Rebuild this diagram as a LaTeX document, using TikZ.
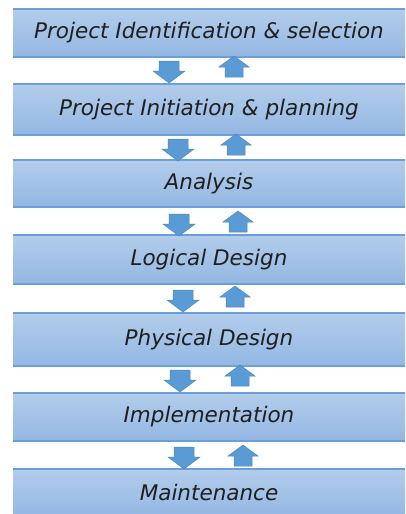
\documentclass[tikz,border=0pt]{standalone}
\usepackage{fontspec}
\setmainfont{DejaVu Sans}
\definecolor{boxtop}{HTML}{B3CDEB}
\definecolor{boxbot}{HTML}{93B7E3}
\definecolor{boxedge}{HTML}{6A9FD9}
\definecolor{arrfill}{HTML}{5B9BD5}
\definecolor{arredge}{HTML}{4A86C0}
\tikzset{
  stage/.style={top color=boxtop, bottom color=boxbot, draw=none},
  edgeline/.style={boxedge, line width=1.6pt},
  label/.style={font=\fontsize{21.5}{24}\selectfont\itshape, text=black!88, inner sep=0pt},
  blockarrow/.style={fill=arrfill, draw=arredge, line width=0.5pt, line join=miter}
}
% stage box: #1 name, #2 top y, #3 bottom y, #4 text
\newcommand\stagebox[4]{%
  \path[stage] (13,#2) rectangle (405,#3);
  \draw[edgeline] (13,#2) -- (405,#2);
  \draw[edgeline] (13,#3) -- (405,#3);
  \node[label] (#1) at (209,{(#2+#3)/2}) {#4};
}
% downward block arrow: centre x, top y
\newcommand\arrdown[2]{%
  \filldraw[blockarrow] ({#1-10},#2) -- ({#1+10},#2) -- ({#1+10},{#2+10}) -- ({#1+16},{#2+10})
    -- (#1,{#2+22}) -- ({#1-16},{#2+10}) -- ({#1-10},{#2+10}) -- cycle;
}
% upward block arrow: centre x, tip y
\newcommand\arrup[2]{%
  \filldraw[blockarrow] (#1,#2) -- ({#1+15},{#2+11}) -- ({#1+9},{#2+11}) -- ({#1+9},{#2+21})
    -- ({#1-9},{#2+21}) -- ({#1-9},{#2+11}) -- ({#1-15},{#2+11}) -- cycle;
}
\begin{document}
\begin{tikzpicture}[x=1pt,y=-1pt]
  \useasboundingbox (0,0) rectangle (406,514);
  \stagebox{s1}{9}{57}{Project Identification \& selection}
  \stagebox{s2}{84}{135}{Project Initiation \& planning}
  \stagebox{s3}{160}{207}{Analysis}
  \stagebox{s4}{235}{284}{Logical Design}
  \stagebox{s5}{313}{366}{Physical Design}
  \stagebox{s6}{393}{441}{Implementation}
  \stagebox{s7}{469}{516}{Maintenance}
  \arrdown{169}{61}   \arrup{234}{56}
  \arrdown{178}{139}  \arrup{236}{134}
  \arrdown{179}{214}  \arrup{238}{211}
  \arrdown{183}{290}  \arrup{235}{286}
  \arrdown{180}{370}  \arrup{240}{365}
  \arrdown{184}{447}  \arrup{243}{445}
\end{tikzpicture}
\end{document}
